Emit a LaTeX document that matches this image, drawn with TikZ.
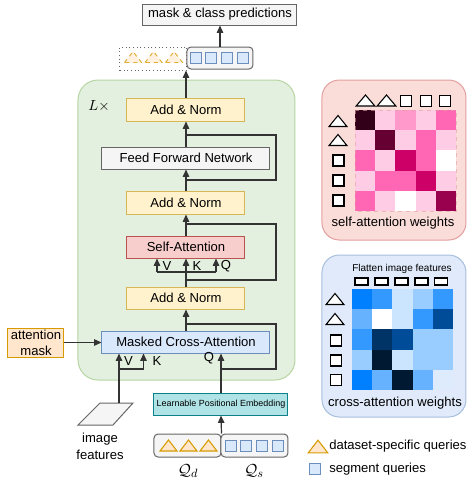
\documentclass[tikz,border=0pt]{standalone}
\usepackage{fontspec}
\setmainfont{Liberation Sans}
\usetikzlibrary{arrows.meta,calc}
\definecolor{dk}{HTML}{333333}
\definecolor{grayfill}{HTML}{F5F5F5}
\definecolor{grayline}{HTML}{666666}
\definecolor{yfill}{HTML}{FFF2CC}
\definecolor{yline}{HTML}{D6B656}
\definecolor{rfill}{HTML}{F8CECC}
\definecolor{rline}{HTML}{B85450}
\definecolor{bfill}{HTML}{DAE8FC}
\definecolor{bline}{HTML}{6C8EBF}
\definecolor{ofill}{HTML}{FFE6CC}
\definecolor{oline}{HTML}{D79B00}
\definecolor{tfill}{HTML}{B0E3E6}
\definecolor{tline}{HTML}{0E8088}
\definecolor{gfill}{RGB}{227,239,223}
\definecolor{gline}{RGB}{182,213,163}
\definecolor{pfill}{RGB}{250,220,217}
\definecolor{pline}{RGB}{226,160,158}
\definecolor{cfill}{RGB}{224,234,250}
\definecolor{cline}{RGB}{168,190,222}
% self-attention cell colours
\definecolor{p0}{HTML}{33001A}
\definecolor{p1}{HTML}{FFCCE6}
\definecolor{p2}{HTML}{FF99CC}
\definecolor{p3}{HTML}{FF66B3}
\definecolor{p4}{HTML}{CC0066}
\definecolor{p5}{HTML}{660033}
\definecolor{p6}{HTML}{99004D}
% cross-attention cell colours
\definecolor{c1}{HTML}{007FFF}
\definecolor{c2}{HTML}{3399FF}
\definecolor{c3}{HTML}{CCE5FF}
\definecolor{c4}{HTML}{99CCFF}
\definecolor{c5}{HTML}{66B2FF}
\definecolor{c6}{HTML}{004C99}
\definecolor{c7}{HTML}{003366}
\definecolor{c8}{HTML}{001933}
\definecolor{c9}{HTML}{DDEBFC}
\tikzset{
  tri/.pic={\path[pic actions] (-8.5,5.5) -- (0,-5.5) -- (8.5,5.5) -- cycle;},
  sqr/.pic={\path[pic actions] (-5.5,-5.5) rectangle (5.5,5.5);},
  flat/.pic={\path[pic actions] (-6.5,-3.5) rectangle (6.5,3.5);},
  box/.style={draw, line width=0.75pt, inner sep=0pt, align=center},
  anbox/.style={box, fill=yfill, draw=yline},
  graybox/.style={box, fill=grayfill, draw=grayline},
  arr/.style={draw=dk, line width=0.9pt, -{Triangle[length=5.5pt,width=4.8pt]}},
  ln/.style={draw=dk, line width=0.9pt},
  lbl/.style={inner sep=0pt},
  blk/.style={draw=black, fill=white, line width=0.8pt},
  otri/.style={draw=oline, fill=ofill, line width=0.8pt},
  bsq/.style={draw=bline, fill=bfill, line width=0.75pt},
}
% \mybox{name}{style}{x1}{y1}{x2}{y2}{text}  (pixel coordinates)
\newcommand\mybox[7]{%
  \node[#2, minimum width={(#5-#3)*0.75pt}, minimum height={(#6-#4)*0.75pt}]
    (#1) at ({(#3+#5)/2},{(#4+#6)/2}) {#7};}
\begin{document}
\begin{tikzpicture}[x=0.75pt,y=-0.75pt,font=\fontsize{9.8}{11.5}\selectfont]
\useasboundingbox (0,0) rectangle (467,480);
\clip (0,0) rectangle (467,480);

% ---------- main block ----------
\mybox{block}{draw=gline, fill=gfill, line width=0.75pt, rounded corners=15pt, inner sep=0pt}{78}{80}{295}{380}{}
\node[lbl, font=\fontsize{11}{13}\selectfont] (Lx) at (99,106) {$L\times$};

\mybox{pred}{graybox}{143}{4}{297}{25}{mask \& class predictions}
\mybox{outd}{draw=grayline, dotted, fill=white, line width=0.75pt, inner sep=0pt}{120}{47}{187}{70}{}
\mybox{outs}{graybox, rounded corners=3pt}{187}{47}{253}{69}{}
\foreach \x in {133,153.5,174}
  \pic[draw=oline, fill=ofill, fill opacity=0.6, draw opacity=0.8, dashed, line width=0.7pt] at (\x,57) {tri};
\foreach \x in {196.5,211.5,227.5,243.5}
  \pic[bsq] at (\x,57.5) {sqr};

\mybox{an1}{anbox}{127}{98}{245}{121}{Add \& Norm}
\mybox{ffn}{graybox}{102}{147}{270}{169}{Feed Forward Network}
\mybox{an2}{anbox}{127}{191}{245}{214}{Add \& Norm}
\mybox{sa}{box, fill=rfill, draw=rline}{127}{236}{245}{258}{Self-Attention}
\mybox{an3}{anbox}{127}{287}{245}{309}{Add \& Norm}
\mybox{mca}{box, fill=bfill, draw=bline}{102}{331}{270}{353}{Masked Cross-Attention}
\mybox{amask}{box, fill=ofill, draw=oline, font=\fontsize{9.8}{12}\selectfont}{8}{328}{64}{357}{attention\\mask}
\mybox{lpe}{box, fill=tfill, draw=tline, font=\fontsize{6.7}{8}\selectfont}{154}{393}{288}{415}{Learnable Positional Embedding}
\mybox{qd}{graybox, rounded corners=3pt}{154}{434}{221}{457}{}
\mybox{qs}{graybox, rounded corners=3pt}{221}{434}{288}{457}{}
\foreach \x in {168.5,188.5,208.5}
  \pic[otri] at (\x,445.5) {tri};
\foreach \x in {231.5,246.5,262.5,278.5}
  \pic[bsq] at (\x,445.5) {sqr};
\node[lbl, font=\fontsize{13}{15}\selectfont] (qdl) at (188,471) {$\mathcal{Q}_d$};
\node[lbl, font=\fontsize{13}{15}\selectfont] (qsl) at (254,471) {$\mathcal{Q}_s$};

% image features
\draw[fill=grayfill, draw=grayline, line width=0.75pt] (78,425) -- (100,403) -- (133,403) -- (113,425) -- cycle;
\coordinate (imgtop) at (119,403);
\node[lbl, align=center, font=\fontsize{9.8}{12.75}\selectfont] (imgtxt) at (100,446) {image\\features};

% ---------- connectors ----------
\draw[arr] (outs.north) -- (pred.south);
\draw[arr] (an1.north) -- (an1.north |- outd.south);
\draw[arr] (ffn.north) -- (an1.south);
\coordinate (r1a) at (186,180);
\coordinate (r1b) at (186,135);
\draw[ln] (r1a) -- ++(90,0) |- (r1b);
\draw[arr] (an2.north) -- (ffn.south);
\draw[arr] (sa.north) -- (an2.south);
\coordinate (r2a) at (186,280);
\coordinate (r2b) at (186,224);
\draw[ln] (r2a) -- ++(90,0) |- (r2b);
\coordinate (vkq) at (186,272);
\draw[ln] (an3.north) -- (vkq);
\coordinate (sv) at (157,272);
\coordinate (sq) at (216,272);
\draw[ln] (sv) -- (sq);
\draw[arr] (sv) -- (sv |- sa.south);
\draw[arr] (vkq) -- (sa.south);
\draw[arr] (sq) -- (sq |- sa.south);
\node[lbl] (sVl) at (167,266) {V};
\node[lbl] (sKl) at (197,266) {K};
\node[lbl] (sQl) at (226,266) {Q};
\draw[arr] (mca.north) -- (an3.south);
\coordinate (r3a) at (221,369);
\coordinate (r3b) at (186,324);
\draw[ln] (r3a) -- ++(55,0) |- (r3b);
\draw[arr] (amask.east) -- (amask.east -| mca.west);
\draw[arr] (imgtop) -- (imgtop |- mca.south);
\coordinate (vk) at (119,369);
\draw[arr] (vk) -| ($(mca.south west)+(42,0)$);
\node[lbl] (cVl) at (128.5,361) {V};
\node[lbl] (cKl) at (157,361) {K};
\node[lbl] (cQl) at (209,358) {Q};
\draw[arr] (lpe.north) -- (lpe.north |- mca.south);
\draw[arr] (qd.north east) -- (lpe.south);

% ---------- legend ----------
\pic[otri, scale=1.15] at (318,446.5) {tri};
\node[lbl, anchor=west] (lg1) at (329,446) {dataset-specific queries};
\pic[bsq] at (315.5,469) {sqr};
\node[lbl, anchor=west] (lg2) at (329,469.5) {segment queries};

% ---------- self-attention panel ----------
\mybox{sapanel}{draw=pline, fill=pfill, line width=0.75pt, rounded corners=13pt, inner sep=0pt}{322}{80}{466}{240}{}
\foreach \row [count=\r from 0] in {{p0,p1,p2,p1,p3},{p1,p5,p1,p3,p1},{p3,p1,p4,p3,white},{p1,p3,p3,p4,p1},{p3,p1,white,p1,p6}}
  \foreach \c [count=\k from 0] in \row
    \fill[\c] (355+\k*20.2,110+\r*20.2) rectangle ++(20.3,20.3);
\draw[pline, dashed, line width=0.3pt, opacity=0.6] (355,110) rectangle (456,211);
\pic[blk, xscale=1.1] at (365.5,100.5) {tri};
\pic[blk, xscale=1.1] at (386.5,100.5) {tri};
\foreach \x in {406,426,445} \pic[blk] at (\x,101) {sqr};
\pic[blk, xscale=1.05] at (338,121) {tri};
\pic[blk, xscale=1.05] at (338,140) {tri};
\foreach \y in {160.5,180.5,200.5} \pic[blk] at (338.5,\y) {sqr};
\node[lbl] (salbl) at (393,223) {self-attention weights};

% ---------- cross-attention panel ----------
\mybox{capanel}{draw=cline, fill=cfill, line width=0.75pt, rounded corners=13pt, inner sep=0pt}{322}{255}{466}{417}{}
\node[lbl, font=\fontsize{7.5}{9}\selectfont] (flat) at (402,269) {Flatten image features};
\foreach \x in {361.5,381.5,401.5,421.5,441} \pic[blk] at (\x,281.5) {flat};
\foreach \row [count=\r from 0] in {{c1,c2,c3,c4,c2},{c5,white,c3,c2,c6},{c2,c7,c6,c4,c4},{c4,c8,c3,c4,c4},{c1,c5,c8,c5,c9}}
  \foreach \c [count=\k from 0] in \row
    \fill[\c] (352+\k*20.2,289+\r*20.2) rectangle ++(20.3,20.3);
\pic[blk, xscale=1.05] at (335,299) {tri};
\pic[blk, xscale=1.05] at (335,319) {tri};
\foreach \y in {340.5,360.5,380} \pic[blk] at (336,\y) {sqr};
\node[lbl] (calbl) at (395,403) {cross-attention weights};
\end{tikzpicture}
\end{document}
